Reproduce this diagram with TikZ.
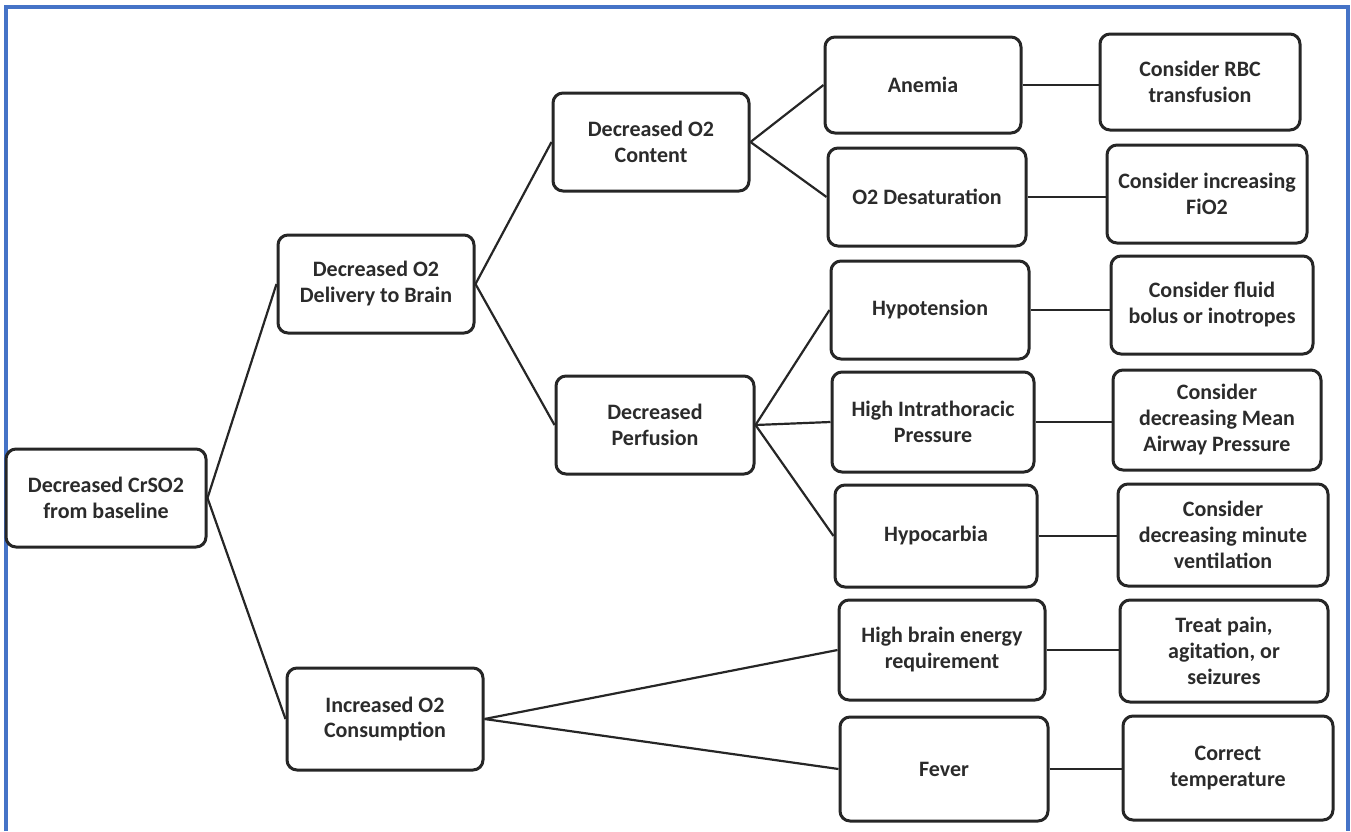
\documentclass[tikz,border=0pt]{standalone}
\usepackage{fontspec}
\setmainfont{Carlito}
\newlength{\du}
\setlength{\du}{0.5pt}
\definecolor{boxline}{rgb}{0.150000, 0.150000, 0.150000}
\definecolor{boxtext}{rgb}{0.170000, 0.170000, 0.170000}
\definecolor{framecolor}{rgb}{0.270000, 0.450000, 0.780000}
\tikzset{
  box/.style={draw=boxline, line width=1.5pt, rounded corners=5pt, fill=white,
    minimum width=100pt, minimum height=49pt, align=center, inner sep=2pt,
    text=boxtext, font=\bfseries\fontsize{11}{13}\selectfont},
  link/.style={draw=boxline, line width=1.1pt},
}
\begin{document}
\begin{tikzpicture}
\pgftransformxscale{1.000000}
\pgftransformyscale{-1.000000}
\useasboundingbox (0\du,0\du) rectangle (1351\du,831\du);
% frame
\draw[framecolor, line width=1.6pt] (6\du,831\du)--(6\du,7\du)--(1348\du,7\du)--(1348\du,831\du);
% first level
\node[box] (crso) at (106\du,498\du) {Decreased CrSO2\\from baseline};
\node[box, minimum width=98pt] (deliv) at (376\du,284\du) {Decreased O2\\Delivery to Brain};
\node[box, minimum width=98pt, minimum height=51pt] (consum) at (385\du,719\du) {Increased O2\\Consumption};
% second level
\node[box, minimum width=98pt] (content) at (651\du,142\du) {Decreased O2\\Content};
\node[box, minimum width=99pt] (perfus) at (655\du,425\du) {Decreased\\Perfusion};
% causes
\node[box, minimum width=98pt, minimum height=48pt] (anemia) at (923\du,85\du) {Anemia};
\node[box, minimum width=99pt] (desat) at (927\du,197\du) {O2 Desaturation};
\node[box, minimum width=99pt] (hypoten) at (930\du,310\du) {Hypotension};
\node[box, minimum width=101pt, minimum height=50pt] (thorax) at (933\du,422\du) {High Intrathoracic\\Pressure};
\node[box, minimum width=101pt, minimum height=51pt] (hypocarb) at (936\du,536\du) {Hypocarbia};
\node[box, minimum width=103pt, minimum height=50pt] (energy) at (942\du,650\du) {High brain energy\\requirement};
\node[box, minimum width=104pt, minimum height=52pt] (fever) at (944\du,769\du) {Fever};
% treatments
\node[box, minimum width=100pt, minimum height=48pt] (rbc) at (1200\du,82\du) {Consider RBC\\transfusion};
\node[box, minimum width=100pt] (fio) at (1207\du,194\du) {Consider increasing\\FiO2};
\node[box, minimum width=101pt] (fluid) at (1212\du,305\du) {Consider fluid\\bolus or inotropes};
\node[box, minimum width=104pt, minimum height=50pt] (airway) at (1217\du,420\du) {Consider\\decreasing Mean\\Airway Pressure};
\node[box, minimum width=105pt, minimum height=51pt] (minvent) at (1223\du,535\du) {Consider\\decreasing minute\\ventilation};
\node[box, minimum width=104pt, minimum height=51pt] (pain) at (1224\du,651\du) {Treat pain,\\agitation, or\\seizures};
\node[box, minimum width=105pt, minimum height=52pt] (temp) at (1228\du,768\du) {Correct\\temperature};
% links
\draw[link] (crso.east)--(deliv.west);
\draw[link] (crso.east)--(consum.west);
\draw[link] (deliv.east)--(content.west);
\draw[link] (deliv.east)--(perfus.west);
\draw[link] (content.east)--(anemia.west);
\draw[link] (content.east)--(desat.west);
\draw[link] (perfus.east)--(hypoten.west);
\draw[link] (perfus.east)--(thorax.west);
\draw[link] (perfus.east)--(hypocarb.west);
\draw[link] (consum.east)--(energy.west);
\draw[link] (consum.east)--(fever.west);
% straight across to the treatments
\draw[link] (anemia.east)--(anemia.east -| rbc.west);
\draw[link] (desat.east)--(desat.east -| fio.west);
\draw[link] (hypoten.east)--(hypoten.east -| fluid.west);
\draw[link] (thorax.east)--(thorax.east -| airway.west);
\draw[link] (hypocarb.east)--(hypocarb.east -| minvent.west);
\draw[link] (energy.east)--(energy.east -| pain.west);
\draw[link] (fever.east)--(fever.east -| temp.west);
\end{tikzpicture}
\end{document}
